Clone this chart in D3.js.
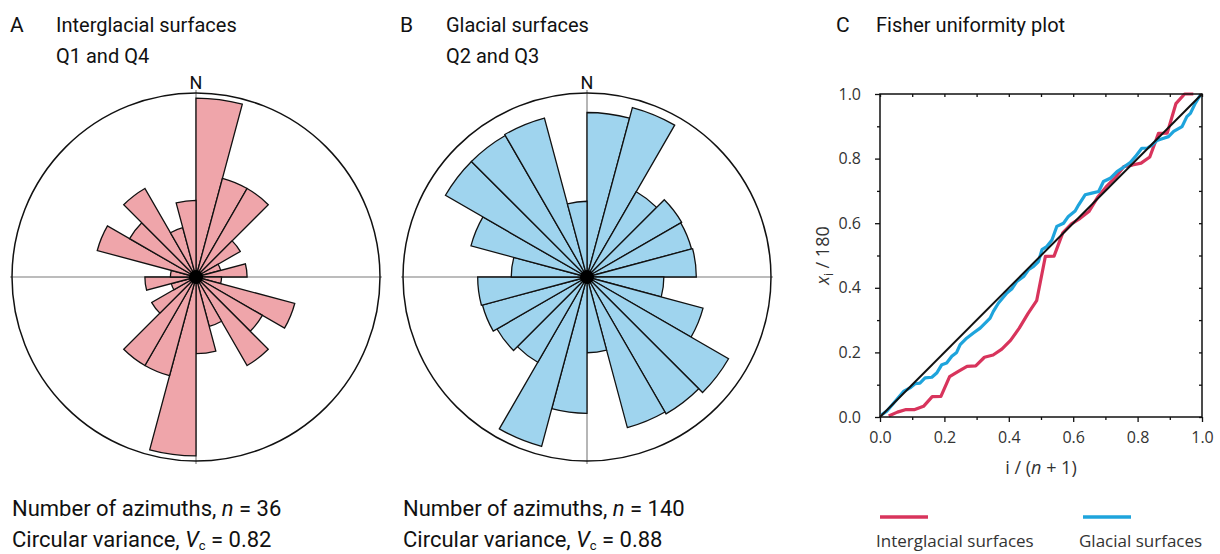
<!DOCTYPE html>
<html>
<head>
<meta charset="utf-8">
<script src="https://cdn.jsdelivr.net/npm/d3@7"></script>
<style>
  body { margin: 0; background: #fff; }
  .title { font-family: Roboto, "Open Sans", sans-serif; fill: #111; }
  .tick-label, .legend-label { font-family: "Open Sans", "Noto Sans", sans-serif; fill: #333; }
</style>
</head>
<body>
<svg id="fig" width="1220" height="554"></svg>
<script>
// ---- Rose diagrams: azimuth frequency per 15° sector, clockwise from north ----
const sectorWidthDeg = 15;
const interglacialSectors = [7, 4, 4, 2, 1, 2, 1, 4, 3, 4, 2, 3,
                             7, 4, 4, 2, 1, 2, 1, 4, 3, 4, 2, 3];
const glacialSectors = [15.2, 16.2, 9.1, 10.1, 10, 10.1, 7.1, 11.1, 15.1, 14.6, 14.4, 7,
                        12.6, 16.2, 9.1, 9.6, 10, 10.1, 7, 11.1, 15.1, 15.1, 15.2, 7];
const interglacialRadialMax = 7.2;
const glacialRadialMax = 17;

// ---- Fisher uniformity plot: ordered x_i / 180 against i / (n + 1) ----
const interglacialN = 36;
const interglacialXi = [0.003, 0.015, 0.023, 0.023, 0.033, 0.063, 0.064, 0.125, 0.141,
  0.157, 0.158, 0.185, 0.192, 0.21, 0.237, 0.275, 0.32, 0.36, 0.497, 0.498, 0.57,
  0.598, 0.615, 0.636, 0.68, 0.713, 0.74, 0.775, 0.78, 0.786, 0.805, 0.878, 0.879,
  0.97, 1.0, 1.0];
const glacialRank = [0.005, 0.021, 0.052, 0.073, 0.093, 0.109, 0.124, 0.14, 0.161, 0.176,
  0.192, 0.207, 0.223, 0.238, 0.249, 0.269, 0.29, 0.311, 0.332, 0.342, 0.352, 0.368,
  0.394, 0.409, 0.425, 0.446, 0.461, 0.477, 0.492, 0.503, 0.518, 0.534, 0.549, 0.57,
  0.585, 0.606, 0.617, 0.637, 0.658, 0.679, 0.694, 0.715, 0.736, 0.756, 0.777, 0.793,
  0.813, 0.829, 0.845, 0.86, 0.881, 0.896, 0.912, 0.938, 0.953, 0.964, 0.979, 0.995];
const glacialXi = [0.007, 0.018, 0.054, 0.079, 0.09, 0.103, 0.105, 0.121, 0.123, 0.136,
  0.162, 0.167, 0.188, 0.2, 0.224, 0.244, 0.26, 0.275, 0.296, 0.306, 0.327, 0.353,
  0.384, 0.396, 0.42, 0.435, 0.456, 0.466, 0.481, 0.518, 0.528, 0.548, 0.59, 0.6,
  0.621, 0.638, 0.657, 0.688, 0.693, 0.698, 0.729, 0.739, 0.76, 0.773, 0.788, 0.806,
  0.832, 0.832, 0.842, 0.856, 0.863, 0.868, 0.884, 0.899, 0.93, 0.94, 0.971, 0.997];
const axisTicks = [0, 0.2, 0.4, 0.6, 0.8, 1.0];
const minorTicks = [0.1, 0.3, 0.5, 0.7, 0.9];
const allTicks = d3.range(0, 11).map(k => k / 10);

const colors = {
  interglacialFill: "#efa5aa",
  glacialFill: "#9fd4ee",
  interglacialLine: "#d8345c",
  glacialLine: "#1ea4dc"
};

const svg = d3.select("#fig");
const rad = d => d * Math.PI / 180;

function drawRose(cx, cy, values, radialMax, fill) {
  const R = 184;
  const g = svg.append("g").attr("transform", `translate(${cx},${cy})`);
  const r = d3.scaleLinear().domain([0, radialMax]).range([0, R]);

  // N–S and E–W reference lines
  g.append("line").attr("x1", -R - 2).attr("x2", R + 2).attr("y1", 0).attr("y2", 0)
    .attr("stroke", "#7a7a7a").attr("stroke-width", 1.1);
  g.append("line").attr("x1", 0).attr("x2", 0).attr("y1", -R - 3).attr("y2", R + 3)
    .attr("stroke", "#7a7a7a").attr("stroke-width", 1.1);

  const arc = d3.arc().innerRadius(0);
  g.selectAll("path.petal").data(values).join("path")
    .attr("class", "petal")
    .attr("d", (d, i) => arc({
      outerRadius: r(d),
      startAngle: rad(i * sectorWidthDeg),
      endAngle: rad((i + 1) * sectorWidthDeg)
    }))
    .attr("fill", fill)
    .attr("stroke", "#111")
    .attr("stroke-width", 1.3)
    .attr("stroke-linejoin", "miter");

  g.append("circle").attr("r", R).attr("fill", "none")
    .attr("stroke", "#111").attr("stroke-width", 1.5);
  g.append("circle").attr("r", 7).attr("fill", "#000");

  g.append("text").attr("class", "title").attr("x", 0).attr("y", -R - 4)
    .attr("text-anchor", "middle").attr("font-size", 18).text("N");
}

function panelTitle(x, letter, lines) {
  svg.append("text").attr("class", "title").attr("x", x).attr("y", 32)
    .attr("font-size", 21).text(letter);
  lines.forEach((t, k) => {
    svg.append("text").attr("class", "title").attr("x", x + 46).attr("y", 32 + k * 31)
      .attr("font-size", 20).text(t);
  });
}

function stats(x, n, vc) {
  const t1 = svg.append("text").attr("class", "title").attr("x", x).attr("y", 516).attr("font-size", 22);
  t1.append("tspan").text("Number of azimuths, ");
  t1.append("tspan").attr("font-style", "italic").text("n");
  t1.append("tspan").text(" = " + n);
  const t2 = svg.append("text").attr("class", "title").attr("x", x).attr("y", 547).attr("font-size", 22);
  t2.append("tspan").text("Circular variance, ");
  t2.append("tspan").attr("font-style", "italic").text("V");
  t2.append("tspan").attr("font-size", 13).attr("dy", 3).text("c");
  t2.append("tspan").attr("dy", -3).text(" = " + vc);
}

// Panel A
panelTitle(10, "A", ["Interglacial surfaces", "Q1 and Q4"]);
drawRose(196, 277, interglacialSectors, interglacialRadialMax, colors.interglacialFill);
stats(12, interglacialN, "0.82");

// Panel B
panelTitle(400, "B", ["Glacial surfaces", "Q2 and Q3"]);
drawRose(587, 277, glacialSectors, glacialRadialMax, colors.glacialFill);
stats(403, 140, "0.88");

// Panel C
svg.append("text").attr("class", "title").attr("x", 836).attr("y", 32).attr("font-size", 21).text("C");
svg.append("text").attr("class", "title").attr("x", 876).attr("y", 32).attr("font-size", 20).text("Fisher uniformity plot");

const px0 = 880, px1 = 1202, py0 = 417, py1 = 94;
const x = d3.scaleLinear().domain([0, 1]).range([px0, px1]);
const y = d3.scaleLinear().domain([0, 1]).range([py0, py1]);
const plot = svg.append("g");

const fmt = d3.format(".1f");
function styleAxis(sel, showLabels) {
  sel.select(".domain").remove();
  sel.selectAll(".tick line").attr("stroke", "#111").attr("stroke-width", 1.3);
  sel.selectAll(".tick text").attr("class", "tick-label").attr("font-size", 16)
    .style("font-family", "'Open Sans', sans-serif").attr("fill", "#3a3a3a");
  if (!showLabels) sel.selectAll(".tick text").remove();
}

// outward major + minor ticks on left and bottom
plot.append("g").attr("transform", `translate(0,${py0})`)
  .call(d3.axisBottom(x).tickValues(axisTicks).tickSize(5).tickPadding(10).tickFormat(fmt))
  .call(s => styleAxis(s, true));
plot.append("g").attr("transform", `translate(0,${py0})`)
  .call(d3.axisBottom(x).tickValues(minorTicks).tickSize(3).tickFormat(""))
  .call(s => styleAxis(s, false));
plot.append("g").attr("transform", `translate(${px0},0)`)
  .call(d3.axisLeft(y).tickValues(axisTicks).tickSize(5).tickPadding(14).tickFormat(fmt))
  .call(s => styleAxis(s, true));
plot.append("g").attr("transform", `translate(${px0},0)`)
  .call(d3.axisLeft(y).tickValues(minorTicks).tickSize(3).tickFormat(""))
  .call(s => styleAxis(s, false));
// inward ticks on top and right
plot.append("g").attr("transform", `translate(0,${py1})`)
  .call(d3.axisTop(x).tickValues(allTicks).tickSize(-3).tickFormat(""))
  .call(s => styleAxis(s, false));
plot.append("g").attr("transform", `translate(${px1},0)`)
  .call(d3.axisRight(y).tickValues(allTicks).tickSize(-3).tickFormat(""))
  .call(s => styleAxis(s, false));

const line = d3.line().x(d => x(d[0])).y(d => y(d[1]));
const interglacialPts = interglacialXi.map((v, k) => [(k + 1) / (interglacialN + 1), v]);
const glacialPts = glacialXi.map((v, k) => [glacialRank[k], v]);

plot.append("path").datum(interglacialPts).attr("d", line)
  .attr("fill", "none").attr("stroke", colors.interglacialLine).attr("stroke-width", 3.2)
  .attr("stroke-linejoin", "round");
plot.append("path").datum(glacialPts).attr("d", line)
  .attr("fill", "none").attr("stroke", colors.glacialLine).attr("stroke-width", 3.2)
  .attr("stroke-linejoin", "round");
plot.append("path").datum([[0, 0], [1, 1]]).attr("d", line)
  .attr("fill", "none").attr("stroke", "#111").attr("stroke-width", 2);

plot.append("rect").attr("x", px0).attr("y", py1).attr("width", px1 - px0).attr("height", py0 - py1)
  .attr("fill", "none").attr("stroke", "#111").attr("stroke-width", 1.5);

// axis titles
const xt = svg.append("text").attr("class", "tick-label").attr("x", (px0 + px1) / 2).attr("y", 474)
  .attr("text-anchor", "middle").attr("font-size", 18).attr("fill", "#222");
xt.append("tspan").text("i / (");
xt.append("tspan").attr("font-style", "italic").text("n");
xt.append("tspan").text(" + 1)");

const yt = svg.append("text").attr("class", "tick-label")
  .attr("transform", `translate(829,${(py0 + py1) / 2}) rotate(-90)`)
  .attr("text-anchor", "middle").attr("font-size", 18).attr("fill", "#222");
yt.append("tspan").attr("font-style", "italic").text("x");
yt.append("tspan").attr("font-size", 12).attr("dy", 4).text("i");
yt.append("tspan").attr("dy", -4).text(" / 180");

// legend
const legend = [
  { label: "Interglacial surfaces", color: colors.interglacialLine, x: 880 },
  { label: "Glacial surfaces", color: colors.glacialLine, x: 1083 }
];
legend.forEach(l => {
  svg.append("line").attr("x1", l.x).attr("x2", l.x + 48).attr("y1", 517).attr("y2", 517)
    .attr("stroke", l.color).attr("stroke-width", 3.5);
  svg.append("text").attr("class", "legend-label").attr("x", l.x - 4).attr("y", 547)
    .attr("font-size", 17).text(l.label);
});
</script>
</body>
</html>
